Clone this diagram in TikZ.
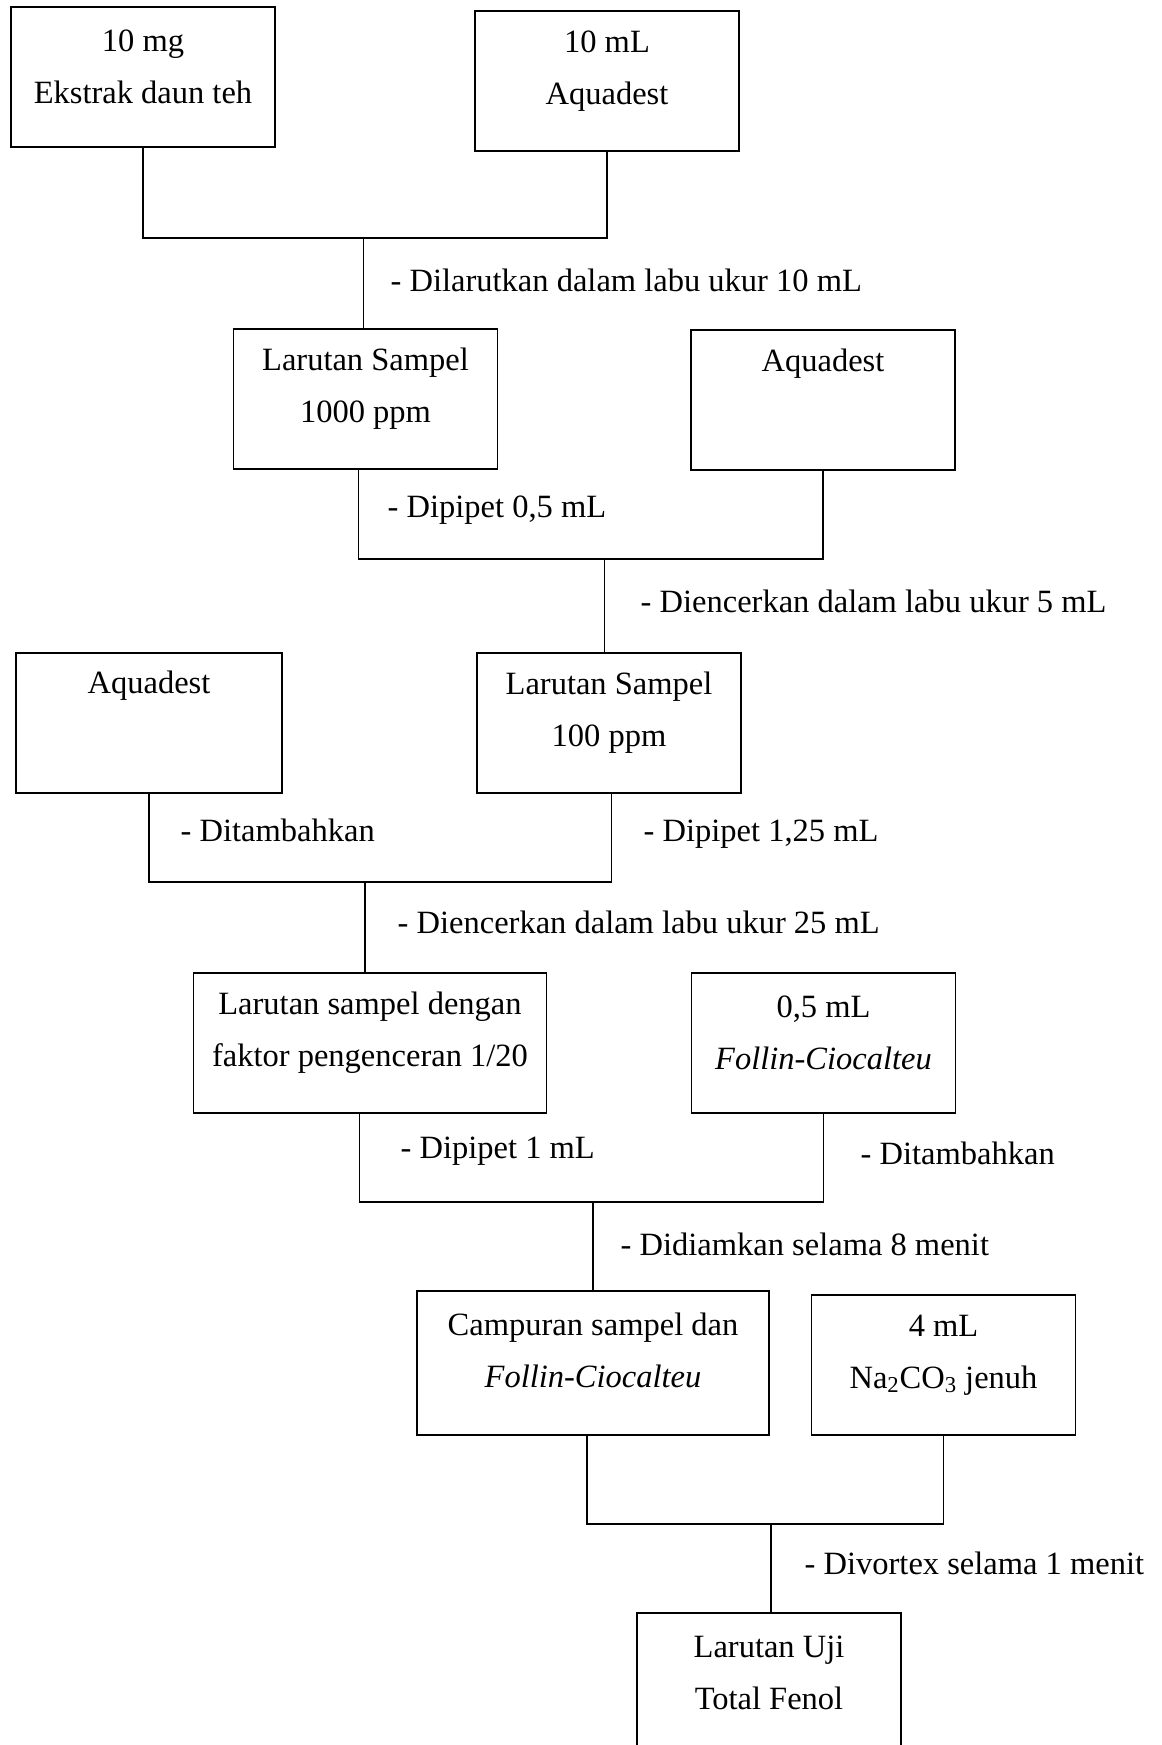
\documentclass[tikz,border=0pt]{standalone}
\usepackage{fontspec}
\setmainfont{Liberation Serif}
\begin{document}
\begin{tikzpicture}
          [x=0.02cm, y=-0.02cm, line width=0.8pt,
           box/.style={draw, inner sep=0, minimum width=5.28cm, minimum height=2.8cm},
           isi/.style={align=center, inner sep=0, font=\fontsize{18.5pt}{29.6pt}\selectfont},
           ket/.style={anchor=west, inner sep=0, font=\fontsize{18.5pt}{29.6pt}\selectfont}]

          \useasboundingbox (0,0) rectangle (1162,1745);
          \clip (0,0) rectangle (1162,1745);

          \node[box] (b1) at (143, 77) {};
          \node[box] (b2) at (607, 81) {};
          \node[box] (b3) at (365.5, 399) {};
          \node[box] (b4) at (823, 400) {};
          \node[box, minimum width=5.32cm] (b5) at (149, 723) {};
          \node[box] (b6) at (609, 723) {};
          \node[box, minimum width=7.07cm] (b7) at (370, 1043) {};
          \node[box] (b8) at (823.5, 1043) {};
          \node[box, minimum width=7.04cm, minimum height=2.88cm] (b9) at (593, 1363) {};
          \node[box] (b10) at (943.5, 1365) {};
          \node[box] (b11) at (769, 1683) {};

          \node[isi] (t1) at (143, 67) {10 mg\\Ekstrak daun teh};
          \node[isi] (t2) at (607, 71) {10 mL\\Aquadest};
          \node[isi] (t3) at (365.5, 389) {Larutan Sampel\\1000 ppm};
          \node[isi] (t4) at (823, 364) {Aquadest};
          \node[isi] (t5) at (149, 686) {Aquadest};
          \node[isi] (t6) at (609, 713) {Larutan Sampel\\100 ppm};
          \node[isi] (t7) at (370, 1033) {Larutan sampel dengan\\faktor pengenceran 1/20};
          \node[isi] (t8) at (823.5, 1033) {0,5 mL\\\textit{Follin-Ciocalteu}};
          \node[isi] (t9) at (593, 1350) {Campuran sampel dan\\\textit{Follin-Ciocalteu}};
          \node[isi] (t10) at (943.5, 1355) {4 mL\\Na\textsubscript{2}CO\textsubscript{3} jenuh};
          \node[isi] (t11) at (769, 1673) {Larutan Uji\\Total Fenol};

          \coordinate (j1) at (363.5, 238);
          \coordinate (j2) at (604.5, 559);
          \coordinate (j3) at (365, 882);
          \coordinate (j4) at (593, 1202);
          \coordinate (j5) at (771, 1524);

          \draw (b1.south) |- (j1) -| (b2.south);
          \draw (j1) -- (j1 |- b3.north);
          \draw ([xshift=-0.14cm]b3.south) |- (j2) -| (b4.south);
          \draw (j2) -- (j2 |- b6.north);
          \draw (b5.south) |- (j3) -| ([xshift=0.05cm]b6.south);
          \draw (j3) -- (j3 |- b7.north);
          \draw ([xshift=-0.21cm]b7.south) |- (j4) -| (b8.south);
          \draw (j4) -- (b9.north);
          \draw ([xshift=-0.12cm]b9.south) |- (j5) -| (b10.south);
          \draw (j5) -- (j5 |- b11.north);

          \node[ket] (k1) at (390, 280) {- Dilarutkan dalam labu ukur 10 mL};
          \node[ket] (k2) at (387, 510) {- Dipipet 0,5 mL};
          \node[ket] (k3) at (640, 601) {- Diencerkan dalam labu ukur 5 mL};
          \node[ket] (k4) at (180, 830) {- Ditambahkan};
          \node[ket] (k5) at (643, 834) {- Dipipet 1,25 mL};
          \node[ket] (k6) at (397, 922) {- Diencerkan dalam labu ukur 25 mL};
          \node[ket] (k7) at (400, 1151) {- Dipipet 1 mL};
          \node[ket] (k8) at (860, 1153) {- Ditambahkan};
          \node[ket] (k9) at (620, 1244) {- Didiamkan selama 8 menit};
          \node[ket] (k10) at (804, 1563) {- Divortex selama 1 menit};

        \end{tikzpicture}
\end{document}
